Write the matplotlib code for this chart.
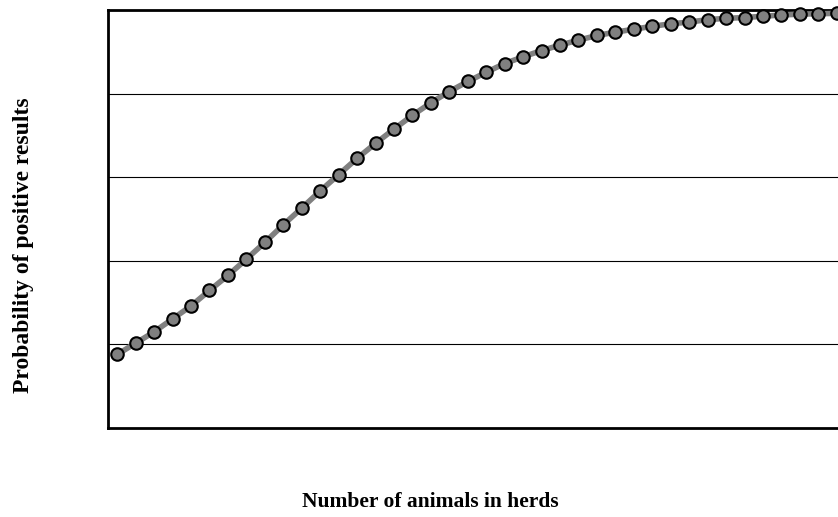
import matplotlib.pyplot as plt
import numpy as np

# number of animals (category index) and probability
animals = list(range(1, 41))
prob = [0.176, 0.203, 0.230, 0.261, 0.292, 0.329, 0.365, 0.404, 0.444, 0.486,
        0.526, 0.567, 0.606, 0.645, 0.681, 0.715, 0.748, 0.778, 0.805, 0.829,
        0.851, 0.872, 0.888, 0.903, 0.916, 0.928, 0.939, 0.947, 0.954, 0.961,
        0.967, 0.971, 0.977, 0.980, 0.982, 0.985, 0.988, 0.990, 0.991, 0.992]
yticks = [0.2, 0.4, 0.6, 0.8, 1.0]

plt.rcParams['font.family'] = ['Liberation Serif', 'DejaVu Serif']

fig = plt.figure(figsize=(8.38, 5.17), dpi=100)
W, H = 838, 517
ax = fig.add_axes([108 / W, (H - 428) / H, (846 - 108) / W, 418 / H])

ax.plot(animals, prob, color='#808080', lw=4, zorder=3,
        marker='o', markersize=9, markerfacecolor='#808080',
        markeredgecolor='black', markeredgewidth=1.5, clip_on=False)

ax.set_xlim(0.5, 40.5)
ax.set_ylim(0, 1)
ax.set_yticks(yticks)
ax.grid(axis='y', color='black', lw=0.8)
ax.set_axisbelow(True)
ax.tick_params(left=False, bottom=False, labelleft=False, labelbottom=False)
for s in ax.spines.values():
    s.set_linewidth(2)
    s.set_color('black')

fig.text(430 / W, 1 - 502 / H, 'Number of animals in herds', ha='center', va='center',
         fontsize=15.5, fontweight='bold')
fig.text(24 / W, 1 - 245 / H, 'Probability of positive results', ha='center', va='center',
         rotation=90, fontsize=17, fontweight='bold')

fig.savefig('out.png', dpi=100)
